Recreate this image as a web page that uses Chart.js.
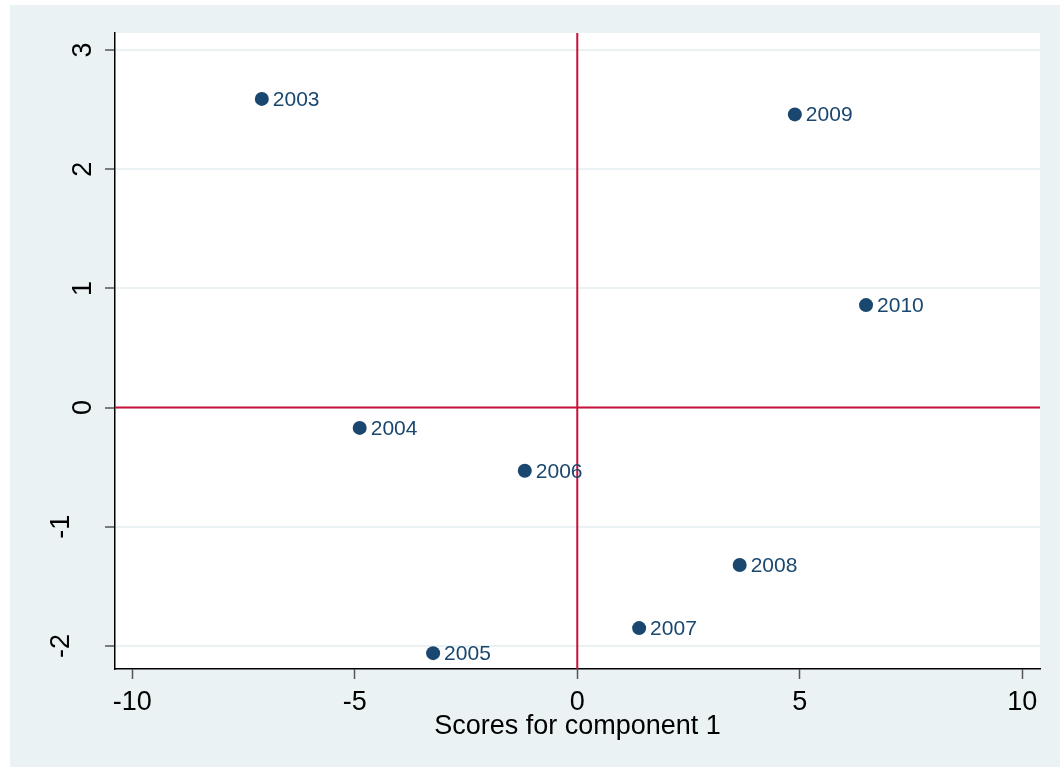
<!DOCTYPE html>
<html lang="en">
<head>
    <meta charset="UTF-8">
    <title>Scores for component 1</title>
    <script src="https://cdn.jsdelivr.net/npm/chart.js"></script>
    <style>
        html, body { margin: 0; padding: 0; background: #ffffff; }
        #wrap { width: 1060px; height: 767px; }
    </style>
</head>
<body>
    <div id="wrap"><canvas id="scoreChart" width="1060" height="767"></canvas></div>

    <script>
        // data
        const years  = ["2003", "2004", "2005", "2006", "2007", "2008", "2009", "2010"];
        const score1 = [-7.09, -4.89, -3.24, -1.18, 1.39, 3.65, 4.89, 6.49];
        const score2 = [2.59, -0.17, -2.06, -0.53, -1.85, -1.32, 2.46, 0.86];
        const refX = [0];
        const refY = [0];
        const xTickStep = 5;
        const yTickStep = 1;

        const FONT = "'Liberation Sans', Arial, sans-serif";
        const navy = "#1a476f";
        const red = "#c8103a";

        const points = score1.map((v, i) => ({ x: v, y: score2[i] }));

        // light panel + white plot region
        const background = {
            id: "background",
            beforeDraw(chart) {
                const { ctx, chartArea: a } = chart;
                ctx.save();
                ctx.fillStyle = "#eaf2f3";
                ctx.fillRect(10, 5, chart.width - 10, chart.height - 5);
                ctx.fillStyle = "#ffffff";
                ctx.fillRect(a.left, a.top, a.right - a.left, a.bottom - a.top);
                ctx.restore();
            }
        };

        // red lines at x = 0 and y = 0
        const refLines = {
            id: "refLines",
            beforeDatasetsDraw(chart) {
                const { ctx, chartArea: a, scales } = chart;
                ctx.save();
                ctx.strokeStyle = red;
                ctx.lineWidth = 2;
                refY.forEach(v => {
                    const py = scales.y.getPixelForValue(v);
                    ctx.beginPath();
                    ctx.moveTo(a.left, py);
                    ctx.lineTo(a.right, py);
                    ctx.stroke();
                });
                refX.forEach(v => {
                    const px = scales.x.getPixelForValue(v);
                    ctx.beginPath();
                    ctx.moveTo(px, a.top);
                    ctx.lineTo(px, a.bottom);
                    ctx.stroke();
                });
                ctx.restore();
            }
        };

        // year labels to the right of each marker
        const pointLabels = {
            id: "pointLabels",
            afterDatasetsDraw(chart) {
                const { ctx } = chart;
                const meta = chart.getDatasetMeta(0);
                ctx.save();
                ctx.fillStyle = navy;
                ctx.font = "21px " + FONT;
                ctx.textAlign = "left";
                ctx.textBaseline = "middle";
                meta.data.forEach((pt, i) => {
                    ctx.fillText(years[i], pt.x + 11, pt.y + 1);
                });
                ctx.restore();
            }
        };

        new Chart(document.getElementById("scoreChart"), {
            type: "scatter",
            data: {
                datasets: [{
                    label: "Scores",
                    data: points,
                    backgroundColor: navy,
                    borderWidth: 0,
                    pointRadius: 7,
                    pointHoverRadius: 7
                }]
            },
            options: {
                responsive: false,
                animation: false,
                layout: { padding: { top: 33, right: 20, left: 0, bottom: 0 } },
                plugins: {
                    legend: { display: false },
                    tooltip: { enabled: false }
                },
                scales: {
                    x: {
                        type: "linear",
                        min: -10.39,
                        max: 10.4,
                        afterFit(scale) { scale.height = 98; },
                        border: { color: "#000000", width: 1.5 },
                        grid: {
                            drawOnChartArea: false,
                            tickLength: 10,
                            tickColor: "#555555",
                            tickWidth: 1.5
                        },
                        ticks: {
                            stepSize: xTickStep,
                            includeBounds: false,
                            maxRotation: 0,
                            padding: 7,
                            color: "#000000",
                            font: { family: FONT, size: 27 },
                            callback: v => String(v)
                        },
                        title: {
                            display: true,
                            text: "Scores for component 1",
                            color: "#000000",
                            font: { family: FONT, size: 27 },
                            padding: { top: 0, bottom: 24 }
                        }
                    },
                    y: {
                        type: "linear",
                        min: -2.193,
                        max: 3.143,
                        afterFit(scale) { scale.width = 115; },
                        border: { color: "#000000", width: 1.5 },
                        grid: {
                            color: "#eaf2f3",
                            lineWidth: 2,
                            tickLength: 10,
                            tickColor: "#555555",
                            tickWidth: 1.5
                        },
                        ticks: {
                            stepSize: yTickStep,
                            includeBounds: false,
                            minRotation: 90,
                            maxRotation: 90,
                            crossAlign: "center",
                            padding: 9,
                            color: "#000000",
                            font: { family: FONT, size: 27, lineHeight: 44 / 27 },
                            // negative labels sit further out in the original
                            callback: v => v < 0 ? [String(v), ""] : String(v)
                        }
                    }
                }
            },
            plugins: [background, refLines, pointLabels]
        });
    </script>
</body>
</html>
